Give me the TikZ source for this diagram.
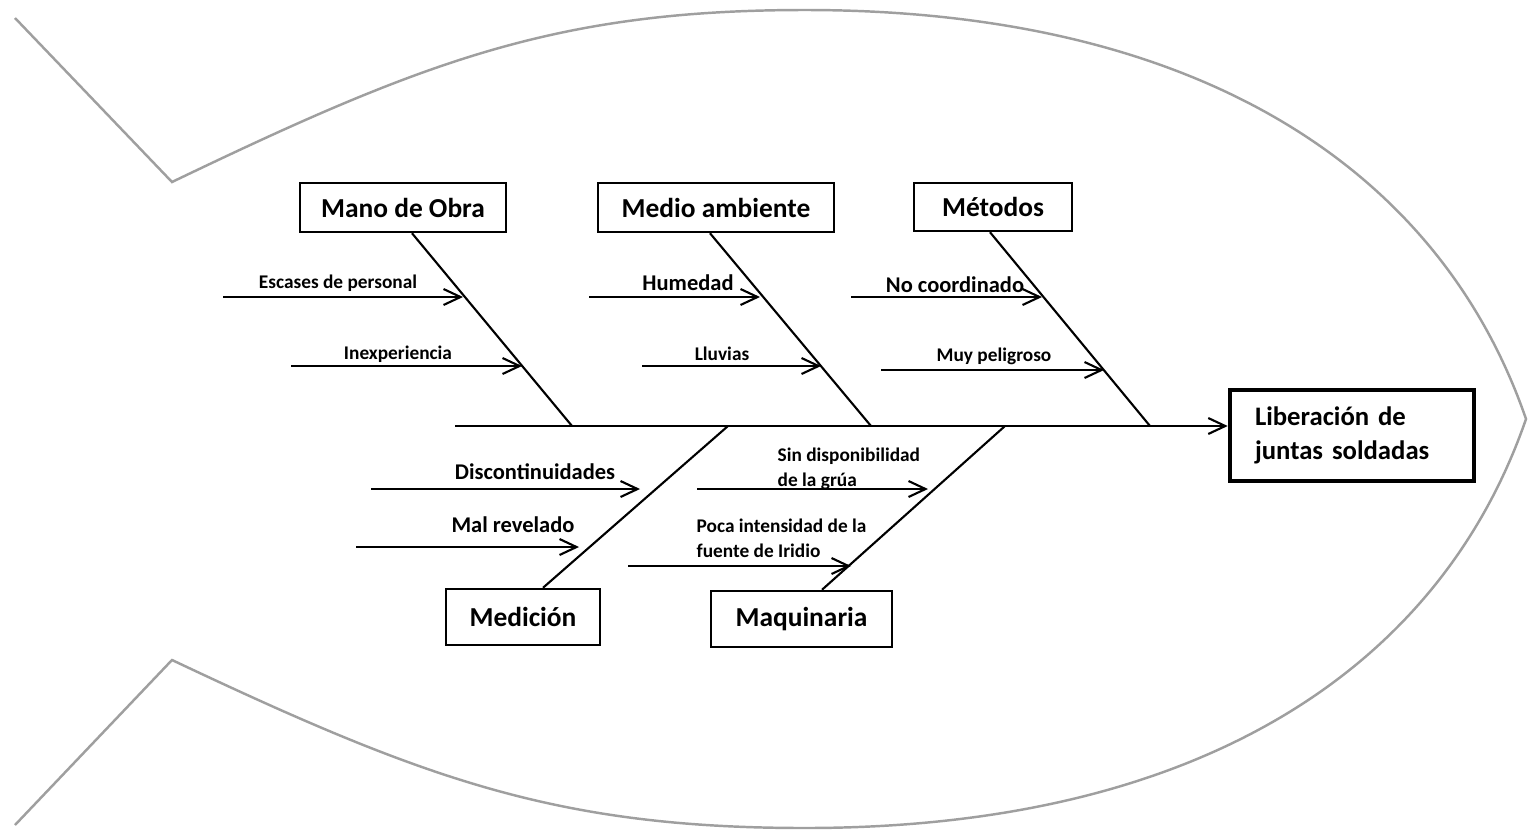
\documentclass[tikz,border=0pt]{standalone}
\usepackage{fontspec}
\setmainfont{Carlito}
\usetikzlibrary{arrows.meta}

\tikzset{
  catbox/.style={draw, line width=0.7pt, inner sep=0pt,
    font=\fontsize{7.8}{9}\selectfont\bfseries},
  effbox/.style={draw, line width=1.3pt, inner xsep=0.25cm, inner ysep=0pt,
    text width=1.94cm, minimum height=0.91cm, align=left,
    font=\fontsize{7.6}{9.7}\selectfont\bfseries},
  lbl/.style={inner sep=0pt, font=\fontsize{6.4}{7.5}\selectfont\bfseries},
  sublbl/.style={inner sep=0pt, align=left, font=\fontsize{5.5}{7}\selectfont\bfseries},
  arr/.style={line width=0.6pt, -{Straight Barb[length=1.7mm,width=1.6mm]}},
  bone/.style={line width=0.6pt},
  fish/.style={gray!75, line width=0.7pt}
}

\begin{document}
\begin{tikzpicture}
  \useasboundingbox (0,0) rectangle (15.3,8.3);

  % outline of the fish
  \draw[fish] (0.15,8.12) -- (1.72,6.48)
    .. controls (4.22,7.68) and (5.55,8.20) .. (8.05,8.20)
    .. controls (12.0,8.20) and (14.4,6.60) .. (15.26,4.11)
    .. controls (14.4,1.62) and (12.0,0.02) .. (8.05,0.02)
    .. controls (5.55,0.02) and (4.22,0.52) .. (1.72,1.70)
    -- (0.15,0.05);

  % head and spine
  \node[effbox] (efecto) at (13.52,3.945) {Liberación de\\juntas soldadas};
  \coordinate (cola) at (4.55,4.04);
  \draw[arr] (cola) -- (efecto.west |- cola);

  % categories
  \node[catbox, minimum width=2.06cm, minimum height=0.49cm] (mano) at (4.03,6.225) {Mano de Obra};
  \node[catbox, minimum width=2.36cm, minimum height=0.49cm] (medio) at (7.16,6.225) {Medio ambiente};
  \node[catbox, minimum width=1.58cm, minimum height=0.48cm] (metodos) at (9.93,6.23) {Métodos};
  \node[catbox, minimum width=1.54cm, minimum height=0.56cm] (medicion) at (5.23,2.13) {Medición};
  \node[catbox, minimum width=1.81cm, minimum height=0.56cm] (maquinaria) at (8.015,2.11) {Maquinaria};

  % bones
  \coordinate (j1) at (5.72,4.04);
  \coordinate (j2) at (8.71,4.04);
  \coordinate (j3) at (11.50,4.04);
  \coordinate (j4) at (7.28,4.04);
  \coordinate (j5) at (10.05,4.04);
  \draw[bone] ([xshift=0.09cm]mano.south) -- (j1);
  \draw[bone] ([xshift=-0.06cm]medio.south) -- (j2);
  \draw[bone] ([xshift=-0.03cm]metodos.south) -- (j3);
  \draw[bone] ([xshift=0.20cm]medicion.north) -- (j4);
  \draw[bone] ([xshift=0.205cm]maquinaria.north) -- (j5);

  % causes
  \foreach \n/\sx/\ex/\y in {a/2.23/4.63/5.33, b/2.91/5.22/4.64, c/5.89/7.60/5.33,
      d/6.42/8.21/4.64, e/8.51/10.42/5.33, f/8.81/11.04/4.60, g/3.71/6.40/3.41,
      h/3.56/5.79/2.83, i/6.97/9.28/3.41, k/6.28/8.51/2.64}{
    \coordinate (s\n) at (\sx,\y);
    \coordinate (e\n) at (\ex,\y);
    \draw[arr] (s\n) -- (e\n);
  }
  \node[sublbl] (la) at (3.38,5.47) {Escases de personal};
  \node[sublbl] (lb) at (3.98,4.76) {Inexperiencia};
  \node[lbl] (lc) at (6.88,5.47) {Humedad};
  \node[sublbl] (ld) at (7.22,4.76) {Lluvias};
  \node[lbl] (le) at (9.55,5.45) {No coordinado};
  \node[sublbl] (lf) at (9.94,4.74) {Muy peligroso};
  \node[lbl] (lg) at (5.35,3.58) {Discontinuidades};
  \node[lbl] (lh) at (5.13,3.05) {Mal revelado};
  \node[sublbl, anchor=west] (li) at (7.77,3.61) {Sin disponibilidad\\de la grúa};
  \node[sublbl, anchor=west] (lk) at (6.96,2.915) {Poca intensidad de la\\fuente de Iridio};
\end{tikzpicture}
\end{document}
